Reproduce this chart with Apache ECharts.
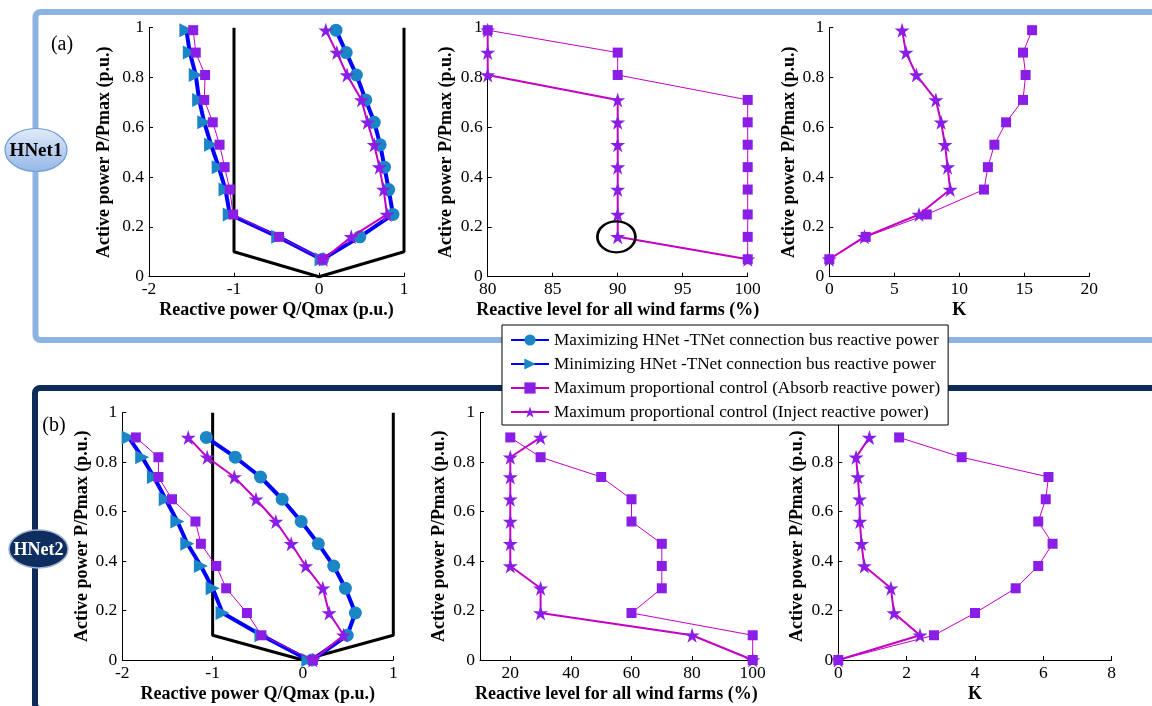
<!DOCTYPE html>
<html>
<head>
<meta charset="utf-8">
<script src="https://cdn.jsdelivr.net/npm/echarts@6/dist/echarts.min.js"></script>
<style>
html, body { margin: 0; padding: 0; background: #fff; }
#main { width: 1152px; height: 706px; }
</style>
</head>
<body>
<div id="main"></div>
<script>
// active power levels (P/Pmax) of the operating points
var pHNet1 = [0.99, 0.9, 0.81, 0.71, 0.62, 0.53, 0.44, 0.35, 0.25, 0.16, 0.07];
var pHNet2 = [0.9, 0.82, 0.74, 0.65, 0.56, 0.47, 0.38, 0.29, 0.19, 0.1, 0];

// (a) HNet1 - reactive power Q/Qmax
var qMaxHNet1 = [0.2, 0.32, 0.44, 0.55, 0.65, 0.72, 0.77, 0.82, 0.87, 0.48, 0.04];
var qMinHNet1 = [-1.56, -1.52, -1.45, -1.41, -1.35, -1.27, -1.18, -1.1, -1.05, -0.48, 0.03];
var qAbsHNet1 = [-1.48, -1.45, -1.34, -1.35, -1.25, -1.17, -1.11, -1.05, -1.01, -0.47, 0.04];
var qInjHNet1 = [0.08, 0.21, 0.33, 0.5, 0.57, 0.65, 0.71, 0.76, 0.8, 0.38, 0.05];
// (a) HNet1 - reactive level (%)
var lvlAbsHNet1 = [80, 90, 90, 100, 100, 100, 100, 100, 100, 100, 100];
var lvlInjHNet1 = [80, 80, 80, 90, 90, 90, 90, 90, 90, 90, 100];
// (a) HNet1 - K
var kAbsHNet1 = [15.6, 14.9, 15.1, 14.9, 13.6, 12.7, 12.2, 11.9, 7.5, 2.8, 0];
var kInjHNet1 = [5.6, 5.9, 6.7, 8.2, 8.6, 8.9, 9.1, 9.3, 6.9, 2.7, 0];

// (b) HNet2 - reactive power Q/Qmax
var qMaxHNet2 = [-1.07, -0.75, -0.47, -0.23, -0.02, 0.17, 0.34, 0.47, 0.58, 0.49, 0.1];
var qMinHNet2 = [-1.93, -1.78, -1.65, -1.52, -1.39, -1.28, -1.13, -1.0, -0.89, -0.46, 0.06];
var qAbsHNet2 = [-1.85, -1.6, -1.6, -1.45, -1.19, -1.13, -0.96, -0.85, -0.62, -0.46, 0.11];
var qInjHNet2 = [-1.27, -1.06, -0.76, -0.52, -0.3, -0.13, 0.03, 0.22, 0.29, 0.45, 0.11];
// (b) HNet2 - reactive level (%)
var lvlAbsHNet2 = [20, 30, 50, 60, 60, 70, 70, 70, 60, 100, 100];
var lvlInjHNet2 = [30, 20, 20, 20, 20, 20, 20, 30, 30, 80, 100];
// (b) HNet2 - K
var kAbsHNet2 = [1.78, 3.61, 6.15, 6.07, 5.85, 6.27, 5.85, 5.19, 4.0, 2.8, 0];
var kInjHNet2 = [0.91, 0.52, 0.57, 0.62, 0.63, 0.68, 0.76, 1.54, 1.63, 2.39, 0];

// capability limit (black polyline)
var limitQ = [-1, -1, 0, 1, 1];
var limitP = [1, 0.1, 0, 0.1, 1];
// highlighted point in (a) middle panel
var circledPoint = [89.9, 0.16];

var seriesNames = [
	'Maximizing HNet -TNet connection bus reactive power',
	'Minimizing HNet -TNet connection bus reactive power',
	'Maximum proportional control (Absorb reactive power)',
	'Maximum proportional control (Inject reactive power)'
];

var FONT = '"Liberation Serif", "Times New Roman", serif';
var starPath = 'path://M50,2 L61.8,38.2 L99.9,38.2 L69.1,60.6 L80.9,96.9 L50,74.5 L19.1,96.9 L30.9,60.6 L0.1,38.2 L38.2,38.2 Z';
var triPath = 'path://M0,0 L12,7 L0,14 Z';

function zip(xs, ys) {
	var out = [];
	for (var i = 0; i < xs.length; i++) {
		out.push([xs[i], ys[i]]);
	}
	return out;
}

// grid boxes: top row (a), bottom row (b)
var grids = [
	{ left: 149, top: 27.7, width: 255, height: 249 },
	{ left: 487.7, top: 27.7, width: 260, height: 249 },
	{ left: 829.3, top: 27.7, width: 260, height: 249 },
	{ left: 122.3, top: 412.7, width: 271, height: 247.3 },
	{ left: 480, top: 412.7, width: 272.7, height: 247.3 },
	{ left: 838.3, top: 412.7, width: 273.4, height: 247.3 }
];

function xAxisFor(gi, min, max, interval, name, custom) {
	var ax = {
		type: 'value', gridIndex: gi, min: min, max: max, interval: interval,
		name: name, nameLocation: 'middle', nameGap: 25,
		nameTextStyle: { fontFamily: FONT, fontWeight: 'bold', fontSize: 18, color: '#000' },
		axisLine: { onZero: false, lineStyle: { color: '#000', width: 1 } },
		axisTick: { inside: true, length: 4, lineStyle: { color: '#000' } },
		axisLabel: { fontFamily: FONT, fontSize: 17.5, color: '#000', margin: 4 },
		splitLine: { show: false }
	};
	if (custom) {
		ax.axisTick.customValues = custom;
		ax.axisLabel.customValues = custom;
	}
	return ax;
}

function yAxisFor(gi, gap) {
	return {
		type: 'value', gridIndex: gi, min: 0, max: 1, interval: 0.2,
		name: 'Active power P/Pmax (p.u.)', nameLocation: 'middle', nameGap: gap,
		nameTextStyle: { fontFamily: FONT, fontWeight: 'bold', fontSize: 18, color: '#000' },
		axisLine: { onZero: false, lineStyle: { color: '#000', width: 1 } },
		axisTick: { inside: true, length: 4, lineStyle: { color: '#000' } },
		axisLabel: { fontFamily: FONT, fontSize: 17.5, color: '#000', margin: 5 },
		splitLine: { show: false }
	};
}

var styles = [
	{ symbol: 'circle', symbolSize: 13, color: '#1a86c6', line: '#0000ff', width: 4, z: 2 },
	{ symbol: triPath, symbolSize: 14, color: '#1a86c6', line: '#0000ff', width: 4, z: 2 },
	{ symbol: 'rect', symbolSize: 10, color: '#8a1ee6', line: '#c400c4', width: 1, z: 3 },
	{ symbol: starPath, symbolSize: 15, color: '#8a1ee6', line: '#c400c4', width: 2, z: 4 }
];

function lineSeries(kind, gi, xs, ps) {
	var s = styles[kind];
	return {
		type: 'line', name: seriesNames[kind], xAxisIndex: gi, yAxisIndex: gi,
		data: zip(xs, ps), symbol: s.symbol, symbolSize: s.symbolSize, showAllSymbol: true,
		itemStyle: { color: s.color },
		lineStyle: { color: s.line, width: s.width },
		z: s.z, clip: false, silent: true
	};
}

function limitSeries(gi) {
	return {
		type: 'line', xAxisIndex: gi, yAxisIndex: gi, data: zip(limitQ, limitP),
		symbol: 'none', lineStyle: { color: '#000', width: 3 }, z: 1, clip: false, silent: true
	};
}

var series = [
	limitSeries(0),
	lineSeries(0, 0, qMaxHNet1, pHNet1),
	lineSeries(1, 0, qMinHNet1, pHNet1),
	lineSeries(2, 0, qAbsHNet1, pHNet1),
	lineSeries(3, 0, qInjHNet1, pHNet1),
	lineSeries(2, 1, lvlAbsHNet1, pHNet1),
	lineSeries(3, 1, lvlInjHNet1, pHNet1),
	{
		type: 'scatter', xAxisIndex: 1, yAxisIndex: 1, data: [circledPoint],
		symbol: 'circle', symbolSize: [38, 31], z: 5, silent: true, clip: false,
		itemStyle: { color: 'rgba(0,0,0,0)', borderColor: '#000', borderWidth: 2.5, opacity: 1 }
	},
	lineSeries(2, 2, kAbsHNet1, pHNet1),
	lineSeries(3, 2, kInjHNet1, pHNet1),
	limitSeries(3),
	lineSeries(0, 3, qMaxHNet2, pHNet2),
	lineSeries(1, 3, qMinHNet2, pHNet2),
	lineSeries(2, 3, qAbsHNet2, pHNet2),
	lineSeries(3, 3, qInjHNet2, pHNet2),
	lineSeries(2, 4, lvlAbsHNet2, pHNet2),
	lineSeries(3, 4, lvlInjHNet2, pHNet2),
	lineSeries(2, 5, kAbsHNet2, pHNet2),
	lineSeries(3, 5, kInjHNet2, pHNet2)
];

var myChart = echarts.init(document.getElementById('main'), null, { renderer: 'canvas' });
var option = {
	animation: false,
	backgroundColor: '#fff',
	grid: grids,
	xAxis: [
		xAxisFor(0, -2, 1, 1, 'Reactive power Q/Qmax (p.u.)'),
		xAxisFor(1, 80, 100, 5, 'Reactive level for all wind farms (%)'),
		xAxisFor(2, 0, 20, 5, 'K'),
		xAxisFor(3, -2, 1, 1, 'Reactive power Q/Qmax (p.u.)'),
		xAxisFor(4, 10, 100, 10, 'Reactive level for all wind farms (%)', [20, 40, 60, 80, 100]),
		xAxisFor(5, 0, 8, 2, 'K')
	],
	yAxis: [yAxisFor(0, 36), yAxisFor(1, 32), yAxisFor(2, 31), yAxisFor(3, 31), yAxisFor(4, 32), yAxisFor(5, 32)],
	legend: {
		data: seriesNames, orient: 'vertical', left: 502, top: 325,
		itemWidth: 38, itemHeight: 14, itemGap: 4, padding: [5, 8, 3, 8],
		backgroundColor: '#fff', borderColor: '#000', borderWidth: 1, z: 20,
		textStyle: { fontFamily: FONT, fontSize: 17.2, lineHeight: 20, color: '#000' },
		selectedMode: false
	},
	graphic: [
		// panel frames
		{ type: 'rect', z: -10, shape: { x: 35.5, y: 12, width: 1140, height: 328, r: 5 },
			style: { fill: 'none', stroke: '#8db3e2', lineWidth: 6 } },
		{ type: 'rect', z: -10, shape: { x: 35, y: 388, width: 1140, height: 321, r: 5 },
			style: { fill: 'none', stroke: '#0e2a5a', lineWidth: 6 } },
		// network badges
		{ type: 'ellipse', z: 10, shape: { cx: 36, cy: 150, rx: 31, ry: 21.5 },
			style: {
				fill: new echarts.graphic.LinearGradient(0, 0, 0, 1, [
					{ offset: 0, color: '#e2ecfa' }, { offset: 1, color: '#93b6e6' }
				]),
				stroke: '#6f9bd1', lineWidth: 1.2
			} },
		{ type: 'text', z: 11, x: 36, y: 151,
			style: { text: 'HNet1', fill: '#000', font: 'bold 19px ' + FONT, align: 'center', verticalAlign: 'middle' } },
		{ type: 'ellipse', z: 10, shape: { cx: 38.5, cy: 549, rx: 29.5, ry: 19 },
			style: { fill: '#0f2d5e', stroke: '#9fb3d3', lineWidth: 1.5 } },
		{ type: 'text', z: 11, x: 38.5, y: 550,
			style: { text: 'HNet2', fill: '#fff', font: 'bold 18px ' + FONT, align: 'center', verticalAlign: 'middle' } },
		// panel tags
		{ type: 'text', z: 11, x: 62, y: 45,
			style: { text: '(a)', fill: '#000', font: '20px ' + FONT, align: 'center', verticalAlign: 'middle' } },
		{ type: 'text', z: 11, x: 54, y: 426,
			style: { text: '(b)', fill: '#000', font: '20px ' + FONT, align: 'center', verticalAlign: 'middle' } }
	],
	series: series
};
myChart.setOption(option);
</script>
</body>
</html>
